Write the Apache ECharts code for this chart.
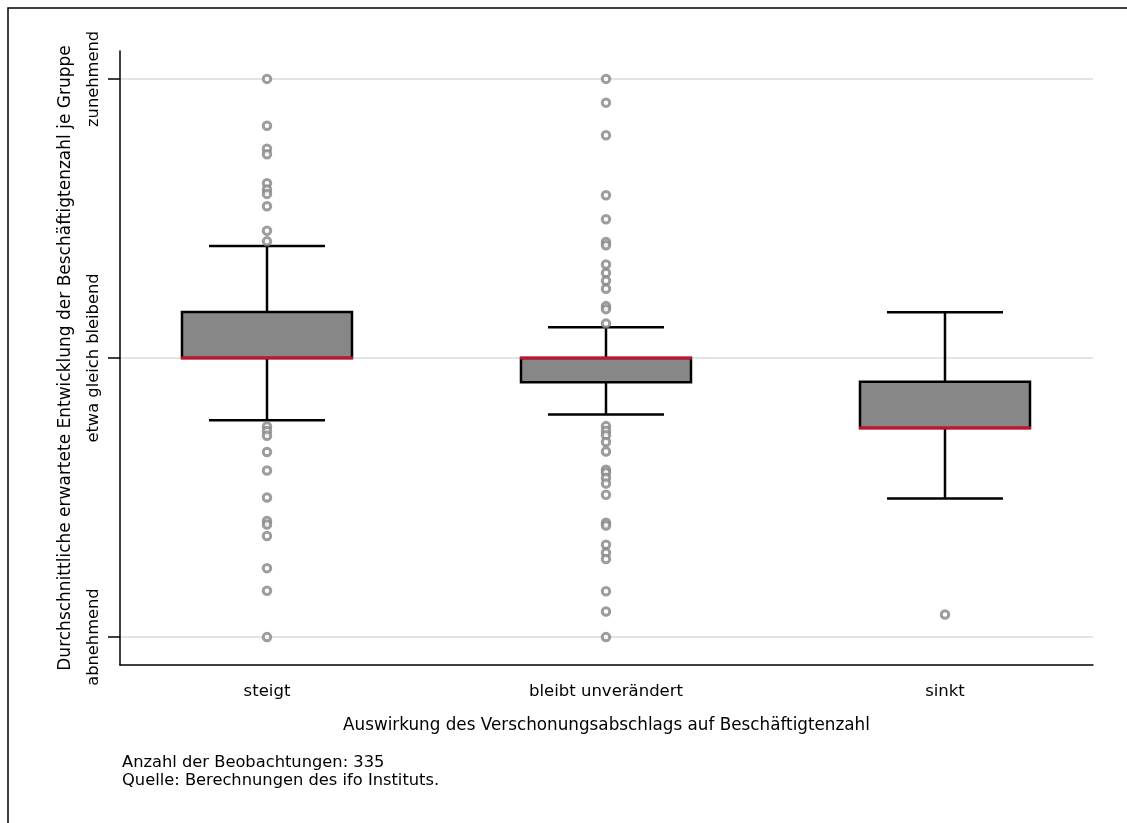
<!DOCTYPE html>
<html>
<head>
<meta charset="utf-8">
<script src="https://cdn.jsdelivr.net/npm/echarts@6/dist/echarts.min.js"></script>
<style>
html,body{margin:0;padding:0;background:#fff;}
#chart{width:1127px;height:823px;}
</style>
</head>
<body>
<div id="chart"></div>
<script>
// ---- data ----
const categories = ['steigt', 'bleibt unverändert', 'sinkt'];
const yTickValues = [-1, 0, 1];
const yTickLabels = ['abnehmend', 'etwa gleich bleibend', 'zunehmend'];

const whiskerLow  = [-0.223, -0.202, -0.503];
const quartile1   = [0.0, -0.087, -0.251];
const medianVal   = [0.0, 0.0, -0.251];
const quartile3   = [0.165, 0.0, -0.085];
const whiskerHigh = [0.401, 0.110, 0.164];

const outliersSteigt = [1.0, 0.832, 0.75, 0.73, 0.626, 0.604, 0.588, 0.544, 0.456, 0.418,
  -0.245, -0.262, -0.279, -0.337, -0.403, -0.5, -0.584, -0.597, -0.638, -0.753, -0.834, -1.0];
const outliersBleibt = [1.0, 0.915, 0.798, 0.583, 0.497, 0.416, 0.404, 0.335, 0.305, 0.277, 0.248,
  0.186, 0.175, 0.124,
  -0.244, -0.261, -0.277, -0.301, -0.335, -0.4, -0.41, -0.43, -0.45, -0.49, -0.59, -0.6,
  -0.669, -0.698, -0.72, -0.836, -0.908, -1.0];
const outliersSinkt = [-0.919];

const yAxisTitle = 'Durchschnittliche erwartete Entwicklung der Beschäftigtenzahl je Gruppe';
const xAxisTitle = 'Auswirkung des Verschonungsabschlags auf Beschäftigtenzahl';
const notes = ['Anzahl der Beobachtungen: 335', 'Quelle: Berechnungen des ifo Instituts.'];

// ---- build ----
const FONT = "'DejaVu Sans', sans-serif";
const NOTE_FONT = "16.3px 'DejaVu Sans', sans-serif";
const boxData = categories.map((c, i) => [i + 1, whiskerLow[i], quartile1[i], medianVal[i], quartile3[i], whiskerHigh[i]]);
const outlierData = [];
[outliersSteigt, outliersBleibt, outliersSinkt].forEach((arr, i) => {
  arr.forEach(v => outlierData.push([i + 1, v]));
});

function renderBox(params, api) {
  const x = api.value(0);
  const pLo = api.coord([x, api.value(1)]);
  const pQ1 = api.coord([x, api.value(2)]);
  const pMed = api.coord([x, api.value(3)]);
  const pQ3 = api.coord([x, api.value(4)]);
  const pHi = api.coord([x, api.value(5)]);
  const cx = pLo[0];
  const bw = 170, cw = 116;
  const ls = { stroke: '#000', lineWidth: 2.5 };
  return {
    type: 'group',
    children: [
      { type: 'line', shape: { x1: cx, y1: pHi[1], x2: cx, y2: pQ3[1] }, style: ls },
      { type: 'line', shape: { x1: cx, y1: pQ1[1], x2: cx, y2: pLo[1] }, style: ls },
      { type: 'line', shape: { x1: cx - cw / 2, y1: pHi[1], x2: cx + cw / 2, y2: pHi[1] }, style: ls },
      { type: 'line', shape: { x1: cx - cw / 2, y1: pLo[1], x2: cx + cw / 2, y2: pLo[1] }, style: ls },
      { type: 'rect', shape: { x: cx - bw / 2, y: pQ3[1], width: bw, height: pQ1[1] - pQ3[1] },
        style: { fill: '#878787', stroke: '#000', lineWidth: 2.5 } },
      { type: 'line', shape: { x1: cx - bw / 2 - 1, y1: pMed[1], x2: cx + bw / 2 + 1, y2: pMed[1] },
        style: { stroke: '#c4122f', lineWidth: 3 } }
    ]
  };
}

const chart = echarts.init(document.getElementById('chart'), null, { renderer: 'canvas' });
chart.setOption({
  animation: false,
  backgroundColor: '#fff',
  textStyle: { fontFamily: FONT },
  grid: { left: 120, right: 34, top: 51, bottom: 158 },
  xAxis: {
    type: 'value',
    min: 0.5664, max: 3.4366,
    name: xAxisTitle,
    nameLocation: 'middle',
    nameGap: 52,
    nameTextStyle: { fontFamily: FONT, fontSize: 16.8, color: '#000' },
    axisLine: { show: true, onZero: false, lineStyle: { color: '#000', width: 1.5 } },
    axisTick: { show: false },
    splitLine: { show: false },
    axisLabel: {
      customValues: [1, 2, 3],
      formatter: v => categories[Math.round(v) - 1] || '',
      fontFamily: FONT, fontSize: 16.5, color: '#000', margin: 18
    }
  },
  yAxis: {
    type: 'value',
    min: -1.1, max: 1.1,
    name: yAxisTitle,
    nameLocation: 'middle',
    nameGap: 46,
    nameTextStyle: { fontFamily: FONT, fontSize: 17, color: '#000' },
    axisLine: { show: true, onZero: false, lineStyle: { color: '#000', width: 1.5 } },
    axisTick: { show: true, customValues: yTickValues, length: 12, lineStyle: { color: '#000', width: 1.5 } },
    splitLine: { show: true, lineStyle: { color: '#e4e4e4', width: 2 } },
    axisLabel: {
      customValues: yTickValues,
      rotate: 90,
      formatter: v => yTickLabels[yTickValues.indexOf(Math.round(v))] || '',
      fontFamily: FONT, fontSize: 16.3, color: '#000', margin: 18
    }
  },
  graphic: [
    { type: 'rect', z: -10, shape: { x: 8, y: 8, width: 1300, height: 1000 },
      style: { fill: 'none', stroke: '#000', lineWidth: 1.5 } },
    { type: 'text', left: 122, top: 755, style: { text: notes[0], font: NOTE_FONT, fill: '#000' } },
    { type: 'text', left: 122, top: 773, style: { text: notes[1], font: NOTE_FONT, fill: '#000' } }
  ],
  series: [
    { type: 'custom', renderItem: renderBox, data: boxData, encode: { x: 0, y: [1, 2, 3, 4, 5] }, z: 2 },
    { type: 'scatter', data: outlierData, symbol: 'circle', symbolSize: 7.5, z: 3,
      itemStyle: { color: '#fff', borderColor: '#848484', borderWidth: 3 } }
  ]
});
</script>
</body>
</html>
